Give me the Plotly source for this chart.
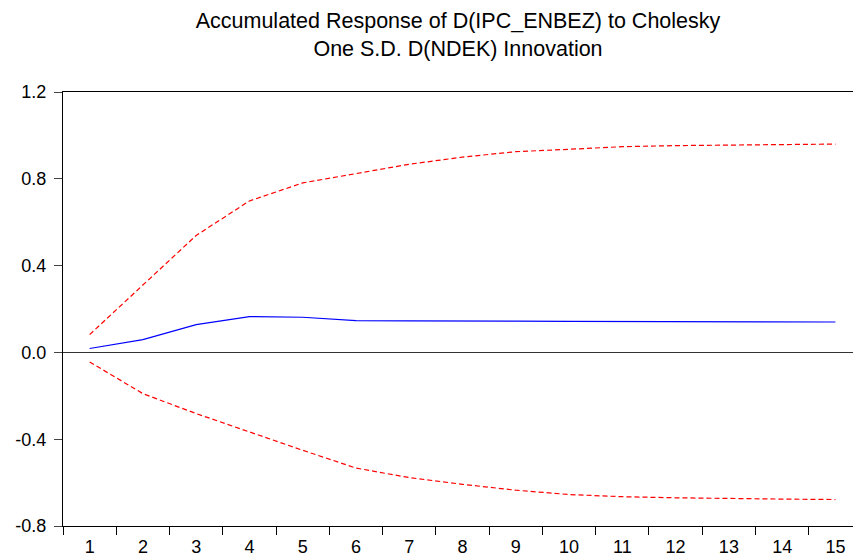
import plotly.graph_objects as go

periods = list(range(1, 16))
response = [0.018, 0.059, 0.128, 0.165, 0.162, 0.146, 0.145, 0.146, 0.144, 0.143, 0.142, 0.142, 0.141, 0.141, 0.140]
upper = [0.082, 0.309, 0.539, 0.698, 0.781, 0.824, 0.867, 0.900, 0.925, 0.936, 0.948, 0.953, 0.956, 0.958, 0.960]
lower = [-0.044, -0.190, -0.282, -0.367, -0.451, -0.533, -0.577, -0.608, -0.635, -0.655, -0.665, -0.670, -0.674, -0.676, -0.678]
ytick_vals = [-0.8, -0.4, 0.0, 0.4, 0.8, 1.2]
ytick_text = ["-0.8", "-0.4", "0.0", "0.4", "0.8", "1.2"]
title_text = "Accumulated Response of D(IPC_ENBEZ) to Cholesky<br>One S.D. D(NDEK) Innovation"

FONT = "Liberation Sans, Arial, sans-serif"

fig = go.Figure()
fig.add_trace(go.Scatter(x=periods, y=upper, mode="lines",
                         line=dict(color="#ff0000", width=1.2, dash="5px,3px"), hoverinfo="skip"))
fig.add_trace(go.Scatter(x=periods, y=lower, mode="lines",
                         line=dict(color="#ff0000", width=1.2, dash="5px,3px"), hoverinfo="skip"))
fig.add_trace(go.Scatter(x=periods, y=response, mode="lines",
                         line=dict(color="#0000ff", width=1.2)))

fig.update_layout(
    width=853, height=558,
    margin=dict(l=63, r=0, t=92, b=32),
    paper_bgcolor="white", plot_bgcolor="white",
    showlegend=False,
    font=dict(family=FONT, color="black", size=18),
    title=dict(text=title_text, x=0.5, xref="paper", xanchor="center",
               y=1 - 28 / 558, yanchor="middle",
               font=dict(size=21.5, family=FONT, color="black")),
    xaxis=dict(range=[0.5, 15.33], tickvals=periods, ticktext=[str(p) for p in periods],
               ticks="", showgrid=False, zeroline=False,
               showline=True, linecolor="black", linewidth=1, mirror=True,
               tickfont=dict(size=18), ticklabelstandoff=4,
               minor=dict(tick0=0.5, dtick=1, ticks="outside", ticklen=8,
                          tickcolor="black", tickwidth=1, showgrid=False)),
    yaxis=dict(range=[-0.8, 1.2], tickvals=ytick_vals, ticktext=ytick_text,
               ticks="outside", ticklen=8, tickcolor="#444", showgrid=False,
               zeroline=True, zerolinecolor="#333", zerolinewidth=1,
               showline=True, linecolor="black", linewidth=1,
               tickfont=dict(size=18), ticklabelstandoff=4),
)

fig.write_html("out.html")
